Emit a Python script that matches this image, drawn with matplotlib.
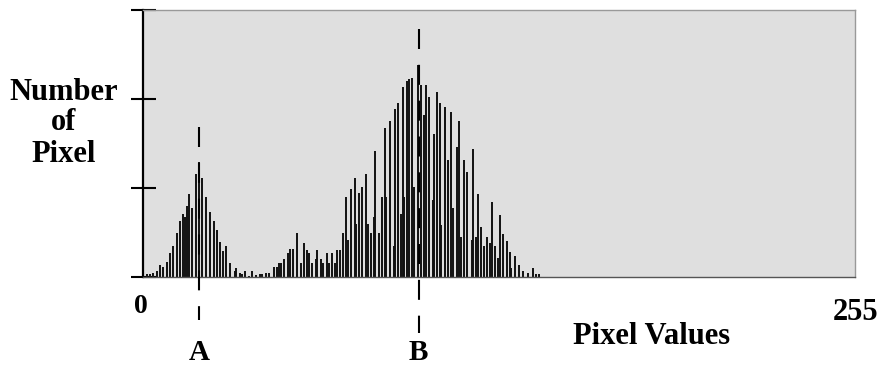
import numpy as np
import matplotlib
matplotlib.use("Agg")
import matplotlib.pyplot as plt

# Histogram data (pixel value, count in axis units)
pixel_values = [1.33, 2.51, 3.69, 5.12, 6.09, 7.27, 8.49, 9.67, 10.85, 12.07, 13.25, 14.22,
                15.22, 15.58, 16.58, 17.55, 18.98, 20.06, 21.13, 22.74, 24.0, 25.25, 26.5,
                27.69, 28.76, 29.9, 31.16, 32.84, 33.42, 34.74, 35.46, 36.64, 37.96, 39.15,
                40.58, 41.8, 42.73, 43.94, 45.13, 46.81, 47.99, 48.6, 49.53, 50.5, 51.93,
                52.54, 53.72, 55.15, 56.41, 57.66, 58.84, 59.45, 60.64, 61.85, 62.43, 63.64,
                64.57, 65.79, 66.72, 67.58, 68.76, 69.37, 70.56, 71.52, 72.88, 73.35, 74.5,
                75.93, 76.29, 77.47, 78.43, 79.76, 80.47, 81.55, 82.73, 83.2, 84.42, 85.49,
                86.78, 87.1, 88.46, 89.89, 90.25, 91.43, 92.3, 93.01, 93.58, 94.44, 95.38,
                96.45, 97.17, 98.6, 99.46, 100.75, 101.25, 102.43, 103.76, 104.22, 105.4,
                106.48, 106.8, 108.16, 109.13, 110.31, 110.92, 112.35, 113.28, 113.89,
                114.97, 116.15, 117.73, 118.08, 119.16, 120.09, 120.95, 122.13, 123.1,
                124.28, 125.1, 126.07, 127.25, 127.86, 129.04, 130.26, 131.44, 131.8,
                133.23, 134.77, 136.2, 137.78, 139.57, 140.75, 141.93]
counts = [2.7, 2.7, 3.7, 6, 12, 10, 15, 24, 31, 44, 56, 63,
          60, 71, 83, 69, 103, 115, 99, 80, 65, 56, 47,
          35, 26, 31, 14, 6, 9, 4, 3, 6, 1, 6,
          2, 3, 3, 4, 4, 10, 10, 14, 14, 18, 24,
          28, 28, 44, 14, 34, 27, 24, 14, 18, 27, 18,
          14, 24, 14, 24, 14, 27, 27, 44, 80, 37, 88,
          99, 53, 84, 90, 103, 53, 44, 60, 126, 44, 80,
          149, 80, 156, 31, 168, 174, 63, 190, 80, 196, 198,
          199, 90, 212, 192, 162, 192, 180, 77, 143, 185,
          174, 52, 170, 117, 165, 69, 130, 156, 40,
          117, 105, 37, 128, 40, 83, 50, 31, 40,
          34, 75, 31, 19, 62, 43, 36, 25, 9,
          21, 12, 6, 4, 9, 3, 3]

y_ticks = [0, 89, 178, 267]
marker_labels = ["A", "B"]
marker_values = [20.2, 98.7]
marker_tops = [150, 248]
marker_bottoms = [-43, -56]

W, H = 883, 367
fig = plt.figure(figsize=(W / 100, H / 100), dpi=100)
ax = fig.add_axes([143 / W, 1 - 277 / H, 712 / W, 267 / H])
ax.set_facecolor("#dfdfdf")

ax.vlines(pixel_values, 0, counts, colors="#111111", linewidth=1.4, zorder=2)

ax.set_xlim(0, 255)
ax.set_ylim(0, 267)
ax.set_xticks([])
ax.set_yticks(y_ticks)
ax.set_yticklabels([])
ax.tick_params(axis="y", direction="inout", length=18, width=1.5, color="black")

for s in ["top", "right"]:
    ax.spines[s].set_color("#999999")
    ax.spines[s].set_linewidth(1.0)
ax.spines["bottom"].set_color("#555555")
ax.spines["bottom"].set_linewidth(1.0)
ax.spines["left"].set_color("black")
ax.spines["left"].set_linewidth(1.6)

serif = ["Liberation Serif", "DejaVu Serif"]

for lab, xv, top, bot in zip(marker_labels, marker_values, marker_tops, marker_bottoms):
    ln, = ax.plot([xv, xv], [top, bot], color="black", linewidth=1.5,
                  clip_on=False, zorder=5)
    ln.set_dashes((9.6, 7.6))
    ax.annotate(lab, xy=(xv, 0), xycoords=("data", "axes fraction"),
                xytext=(0, -83), textcoords="offset pixels",
                ha="center", va="baseline",
                fontsize=21, fontweight="bold", family=serif, annotation_clip=False)

def ftext(x, y, s, size, ha="center"):
    fig.text(x / W, 1 - y / H, s, ha=ha, va="baseline", fontsize=size,
             fontweight="bold", family=serif)

ftext(63.5, 100, "Number", 22)
ftext(63.5, 130, "of", 22)
ftext(63.5, 162, "Pixel", 22)
ftext(140.5, 313, "0", 20)
ftext(856, 320, "255", 22)
ftext(652, 344, "Pixel Values", 22)

fig.savefig("out.png", dpi=100)
